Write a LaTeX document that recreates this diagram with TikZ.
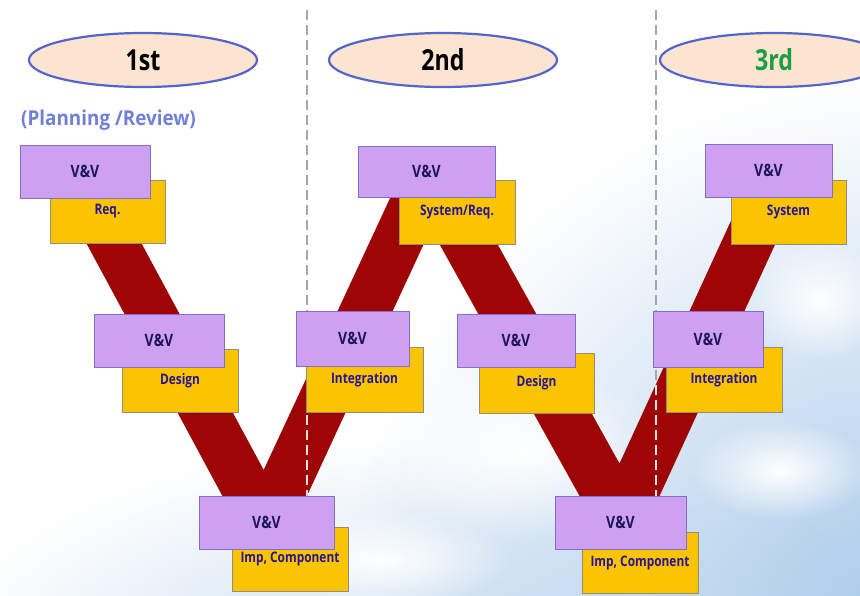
\documentclass[tikz,border=0pt]{standalone}
\usepackage{fontspec}
\setmainfont{Carlito}
\newfontfamily\labelfont[FakeStretch=0.82]{Open Sans}
\newfontfamily\headfont[FakeStretch=0.8]{Open Sans}
\newfontfamily\notefont[FakeStretch=0.92]{Open Sans}
\usetikzlibrary{fadings,shapes.geometric}

\definecolor{skyblue}{RGB}{150,190,230}
\definecolor{bandred}{RGB}{158,6,6}
\definecolor{vvfill}{RGB}{205,160,242}
\definecolor{vvline}{RGB}{130,110,200}
\definecolor{phasefill}{RGB}{250,196,0}
\definecolor{phaseline}{RGB}{150,140,120}
\definecolor{vvtext}{RGB}{30,20,90}
\definecolor{phasetext}{RGB}{40,20,150}
\definecolor{ovalfill}{RGB}{251,228,208}
\definecolor{ovalline}{RGB}{85,100,205}
\definecolor{notecol}{RGB}{112,128,216}
\definecolor{thirdgreen}{RGB}{26,160,64}

\tikzfading[name=skyfade, inner color=transparent!15, outer color=transparent!100]
\tikzfading[name=cloudfade, inner color=transparent!0, outer color=transparent!100]

\tikzset{
  vvbox/.style={draw=vvline, line width=0.8pt, fill=vvfill, minimum width=#1,
    minimum height=53pt, inner sep=0pt, text=vvtext,
    font=\labelfont\fontsize{17}{17}\selectfont\bfseries},
  vvbox/.default=130pt,
  phasebox/.style={draw=phaseline, line width=0.6pt, fill=phasefill, minimum width=#1,
    minimum height=63pt, inner sep=0pt, text=phasetext,
    font=\labelfont\fontsize{14.5}{14.5}\selectfont\bfseries},
  phasebox/.default=116pt,
  oval/.style={ellipse, draw=ovalline, line width=2.2pt, fill=ovalfill,
    minimum width=228pt, minimum height=54pt, inner sep=0pt,
    font=\headfont\fontsize{29}{29}\selectfont\bfseries},
  band/.style={fill=bandred},
  divider/.style={draw=black!35, line width=1.4pt, dash pattern=on 10pt off 5pt},
  divideronband/.style={draw=red!12, line width=1.4pt, dash pattern=on 10pt off 5pt},
}

\begin{document}
\begin{tikzpicture}[x=1pt, y=-1pt]
  % canvas and sky
  \useasboundingbox (0,0) rectangle (860,595);
  \fill[white] (0,0) rectangle (860,595);
  \begin{scope}
    \clip (0,0) rectangle (860,595);
    \fill[skyblue, path fading=skyfade] (900,640) circle (560);
    \fill[skyblue!70, path fading=skyfade] (430,700) ellipse (520 and 260);
    \fill[white, path fading=cloudfade] (520,450) ellipse (150 and 90);
    \fill[white, path fading=cloudfade] (780,470) ellipse (90 and 50);
    \fill[white, path fading=cloudfade] (380,560) ellipse (130 and 50);
    \fill[white, path fading=cloudfade] (820,300) ellipse (70 and 60);
  \end{scope}

  % the two V bands
  \path[band] (55,185) -- (223.5,498) -- (306,498) -- (455.8,175) -- (400.8,175)
     -- (263.7,469.9) -- (110,185) -- cycle;
  \path[band] (401,175) -- (580.7,498) -- (658.6,498) -- (807,175) -- (752,175)
     -- (619.5,463.5) -- (459,175) -- cycle;

  % iteration dividers
  \coordinate (d1top) at (307,10);
  \coordinate (d1bot) at (307,496);
  \coordinate (d2top) at (656,10);
  \coordinate (d2bot) at (656,496);
  \draw[divider] (d1top) -- (d1bot);
  \draw[divider] (d2top) -- (d2bot);
  \begin{scope}
    \clip (55,185) -- (223.5,498) -- (306,498) -- (455.8,175) -- (400.8,175)
     -- (263.7,469.9) -- (110,185) -- cycle
     (401,175) -- (580.7,498) -- (658.6,498) -- (807,175) -- (752,175)
     -- (619.5,463.5) -- (459,175) -- cycle;
    \draw[divideronband] (d1top) -- (d1bot);
    \draw[divideronband] (d2top) -- (d2bot);
  \end{scope}

  % iteration headings
  \node[oval] (it1) at (143,60) {1st};
  \node[oval] (it2) at (443,60) {2nd};
  \node[oval, text=thirdgreen] (it3) at (774,60) {3rd};
  \node[anchor=west, text=notecol, inner sep=0pt,
    font=\notefont\fontsize{20.5}{20.5}\selectfont\bfseries]
    (note) at (21,120) {(Planning /Review)};

  % first V
  \node[phasebox=115pt] (req1) at (107.5,211.5) {Req.};
  \node[vvbox] (vv1) at (85,171.5) {V\&V};
  \node[phasebox=116pt] (des1) at (180,381) {Design};
  \node[vvbox] (vv2) at (159,340.5) {V\&V};
  \node[phasebox=116pt, minimum height=64pt] (imp1) at (290,559) {Imp, Component};
  \node[vvbox=135pt] (vv3) at (266.5,522.5) {V\&V};
  \node[phasebox=117pt, minimum height=65pt] (int1) at (364.5,379.5) {Integration};
  \node[vvbox=113pt, minimum height=55pt] (vv4) at (352.5,338.5) {V\&V};

  % second V
  \node[phasebox=116pt, minimum height=64pt] (sys1) at (457,212) {System/Req.};
  \node[vvbox=137pt, minimum height=51pt] (vv5) at (426.5,171.5) {V\&V};
  \node[phasebox=115pt, minimum height=60pt] (des2) at (536.5,383) {Design};
  \node[vvbox=118pt] (vv6) at (516,340.5) {V\&V};
  \node[phasebox=116pt, minimum height=61pt] (imp2) at (640,562.5) {Imp, Component};
  \node[vvbox=131pt] (vv7) at (620.5,522.5) {V\&V};
  \node[phasebox=116pt, minimum height=65pt] (int2) at (724,379.5) {Integration};
  \node[vvbox=110pt, minimum height=56pt] (vv8) at (708,339) {V\&V};

  % third iteration
  \node[phasebox=115pt, minimum height=64pt] (sys2) at (788.5,212) {System};
  \node[vvbox=127pt] (vv9) at (768.5,170.5) {V\&V};
\end{tikzpicture}
\end{document}
